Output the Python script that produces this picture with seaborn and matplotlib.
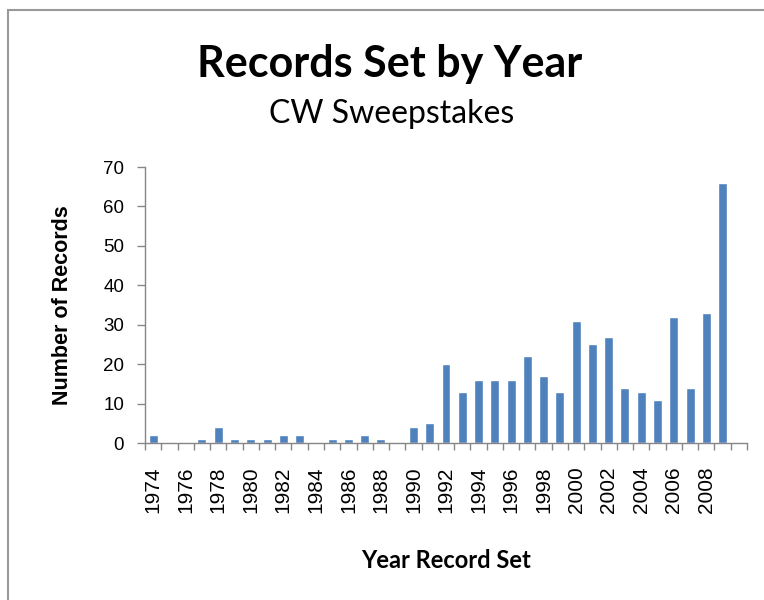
import matplotlib
matplotlib.use("Agg")
import matplotlib.pyplot as plt
import seaborn as sns
import pandas as pd
from matplotlib.patches import Rectangle

years = [str(y) for y in range(1974, 2010)]
records = [2, 0, 0, 1, 4, 1, 1, 1, 2, 2, 0, 1, 1, 2, 1, 0,
           4, 5, 20, 13, 16, 16, 16, 22, 17, 13, 31, 25, 27, 14, 13, 11,
           32, 14, 33, 66]
yticks = [0, 10, 20, 30, 40, 50, 60, 70]

df = pd.DataFrame({"Year": years, "Records": records})

sns.set_theme(style="white")
plt.rcParams["font.family"] = ["Liberation Sans", "DejaVu Sans"]
plt.rcParams["text.color"] = "black"
plt.rcParams["axes.labelcolor"] = "black"
plt.rcParams["xtick.labelcolor"] = "black"
plt.rcParams["ytick.labelcolor"] = "black"

W, H = 764, 600
fig = plt.figure(figsize=(7.64, 6.0), dpi=100)
ax = fig.add_axes([145/W, 1-443/H, (747-145)/W, (443-167)/H])

sns.barplot(data=df, x="Year", y="Records", color="#4F81BD", width=0.55,
            saturation=1, ax=ax, order=years)

ax.set_xlim(-0.5, len(years) + 0.5)
ax.set_ylim(0, 70)
ax.set_yticks(yticks)
ax.set_yticklabels([str(v) for v in yticks], fontsize=13.5)

# labels every other year
pos = list(range(0, len(years), 2))
ax.set_xticks(pos)
ax.set_xticklabels([years[i] for i in pos], rotation=90, fontsize=15)
ax.tick_params(axis="x", which="major", length=0, pad=17, labelcolor="black")
ax.set_xticks([i - 0.5 for i in range(len(years) + 2)], minor=True)
ax.tick_params(axis="x", which="minor", length=5, width=1, color="#868686", direction="out", bottom=True)
ax.tick_params(axis="y", length=6, width=1, color="#868686", direction="out", left=True, pad=9,
               labelcolor="black")

for s in ["top", "right"]:
    ax.spines[s].set_visible(False)
for s in ["left", "bottom"]:
    ax.spines[s].set_color("#868686")
    ax.spines[s].set_linewidth(1)

ax.set_xlabel("Year Record Set", fontsize=17, fontweight="bold", family=["Lato", "DejaVu Sans"], color="black")
ax.set_ylabel("Number of Records", fontsize=15.5, fontweight="bold", family=["Liberation Sans", "DejaVu Sans"], color="black")
ax.xaxis.set_label_coords((446-145)/602, (443-560)/276)
ax.yaxis.set_label_coords((62-145)/602, 0.5)
ax.xaxis.label.set_va("center")
ax.yaxis.label.set_va("center")

fig.text(390/W, 1-77/H, "Records Set by Year", ha="center", va="baseline",
         fontsize=31, fontweight="bold", family=["Lato", "DejaVu Sans"], color="black")
fig.text(392/W, 1-123/H, "CW Sweepstakes", ha="center", va="baseline",
         fontsize=23, family=["Lato", "DejaVu Sans"], color="black")

fig.patches.append(Rectangle((8/W, -0.1), 1.2, 1 - 10/H + 0.1, transform=fig.transFigure,
                             fill=False, edgecolor="#999999", linewidth=1.5))

fig.savefig("out.png", dpi=100)
